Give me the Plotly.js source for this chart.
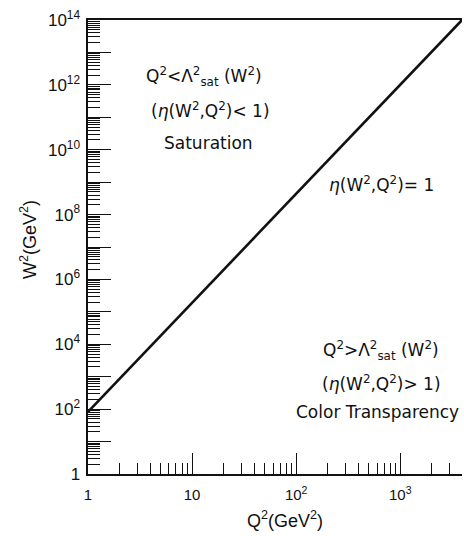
<!DOCTYPE html>
<html>
<head>
<meta charset="utf-8">
<script src="https://cdn.plot.ly/plotly-3.0.1.min.js"></script>
<style>html,body{margin:0;padding:0;background:#fff;}#chart{width:464px;height:536px;}</style>
</head>
<body>
<div id="chart"></div>
<script>
// Data: boundary line eta(W^2,Q^2) = 1
const q2Line = [1, 3920];
const w2Line = [82, 1e14];

// Axis ticks
const xTickVals = [1, 10, 100, 1000];
const xTickText = ['1', '10', '10<sup>2</sup>', '10<sup>3</sup>'];
const yTickVals = [1,1e1,1e2,1e3,1e4,1e5,1e6,1e7,1e8,1e9,1e10,1e11,1e12,1e13,1e14];
const yTickText = ['1','','10<sup>2</sup>','','10<sup>4</sup>','','10<sup>6</sup>','','10<sup>8</sup>','','10<sup>10</sup>','','10<sup>12</sup>','','10<sup>14</sup>'];

// Region labels
const labelText = [
  'Q<sup>2</sup><Λ<sup>2</sup><sub>sat</sub> (W<sup>2</sup>)',
  '(<i>η</i>(W<sup>2</sup>,Q<sup>2</sup>)< 1)',
  'Saturation',
  '<i>η</i>(W<sup>2</sup>,Q<sup>2</sup>)= 1',
  'Q<sup>2</sup>>Λ<sup>2</sup><sub>sat</sub> (W<sup>2</sup>)',
  '(<i>η</i>(W<sup>2</sup>,Q<sup>2</sup>)> 1)',
  'Color Transparency'
];
// pixel centres of labels
const labelPx = [[204,77],[210,110],[208,143],[381,184],[381,350],[381,383],[377,412]];

const W=464,H=536,L=88,R=2,T=20,B=62;
const pw=W-L-R, ph=H-T-B;
function minorVals(lo, hi){
  const v=[];
  for(let e=lo;e<hi;e++) for(let d=2;d<=9;d++) v.push(d*Math.pow(10,e));
  return v;
}

const font='DejaVu Sans, Liberation Sans, sans-serif';
const tfont='Liberation Sans, Arial, sans-serif';
const annotations = labelText.map((t,i)=>({
  text:t, xref:'paper', yref:'paper',
  x:(labelPx[i][0]-L)/pw, y:1-(labelPx[i][1]-T)/ph,
  xanchor:'center', yanchor:'middle', showarrow:false,
  font:{family:font,size:17,color:'#111'}
}));
annotations.push({text:'Q<sup>2</sup>(GeV<sup>2</sup>)', xref:'paper', yref:'paper',
  x:(285-L)/pw, y:1-(519-T)/ph, xanchor:'center', yanchor:'middle', showarrow:false,
  font:{family:tfont,size:18,color:'#111'}});
annotations.push({text:'W<sup>2</sup>(GeV<sup>2</sup>)', xref:'paper', yref:'paper', textangle:-90,
  x:(28-L)/pw, y:1-(240-T)/ph, xanchor:'center', yanchor:'middle', showarrow:false,
  font:{family:tfont,size:18,color:'#111'}});

const trace={x:q2Line,y:w2Line,mode:'lines',type:'scatter',
  line:{color:'#111',width:2.6},cliponaxis:true,hoverinfo:'none'};

const layout={
  width:W,height:H,margin:{l:L,r:R,t:T,b:B},
  paper_bgcolor:'#fff',plot_bgcolor:'#fff',showlegend:false,
  font:{family:tfont,size:14,color:'#111'},
  xaxis:{type:'log',range:[0,Math.log10(3920)],showgrid:false,zeroline:false,
    showline:true,linecolor:'#111',linewidth:2,mirror:true,
    ticks:'inside',ticklen:21,tickwidth:1,tickcolor:'#111',
    tickmode:'array',tickvals:xTickVals,ticktext:xTickText,ticklabelstandoff:6,
    tickfont:{family:tfont,size:15},
    minor:{tickmode:'array',tickvals:minorVals(0,4),ticks:'inside',ticklen:11,tickwidth:1,tickcolor:'#111',showgrid:false}},
  yaxis:{type:'log',range:[0,14],showgrid:false,zeroline:false,
    showline:true,linecolor:'#111',linewidth:2.5,mirror:false,
    ticks:'inside',ticklen:23,tickwidth:1,tickcolor:'#111',
    tickmode:'array',tickvals:yTickVals,ticktext:yTickText,ticklabelstandoff:2,
    tickfont:{family:tfont,size:17},
    minor:{tickmode:'array',tickvals:minorVals(0,14),ticks:'inside',ticklen:12,tickwidth:1,tickcolor:'#111',showgrid:false}},
  annotations:annotations
};
Plotly.newPlot('chart',[trace],layout,{staticPlot:true,displayModeBar:false});
</script>
</body>
</html>
